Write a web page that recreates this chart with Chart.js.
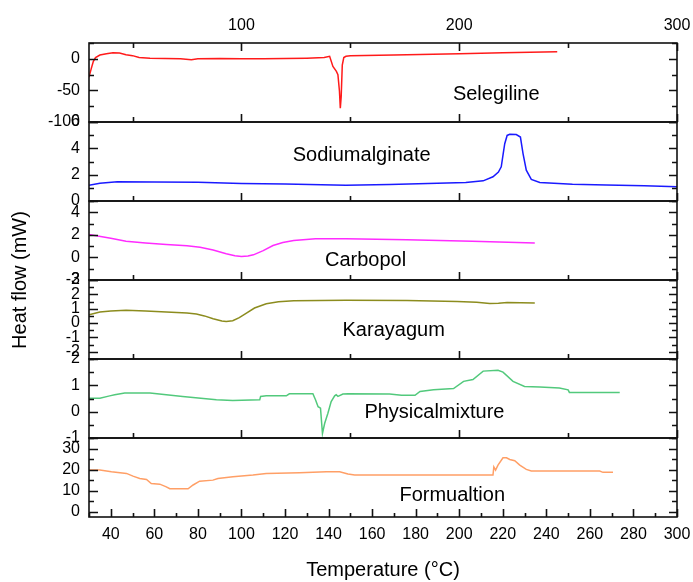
<!DOCTYPE html>
<html><head><meta charset="utf-8">
<script src="https://cdn.jsdelivr.net/npm/chart.js@4.4.1/dist/chart.umd.min.js"></script>
<style>html,body{margin:0;padding:0;background:#fff}canvas{display:block}</style>
</head><body>
<canvas id="c" width="693" height="582"></canvas>
<script>
// ---------- data ----------
const seriesNames = ['Selegiline', 'Sodiumalginate', 'Carbopol', 'Karayagum', 'Physicalmixture', 'Formualtion'];

const selegilineT  = [30, 31, 32, 33, 35, 38, 41, 44, 47, 50, 53, 58, 65, 72, 77, 80, 90, 100, 110, 120, 130, 138, 140.5, 142, 143.6, 144.3, 145, 145.4, 145.8, 146.3, 147, 148, 150, 170, 200, 220, 245];
const selegilineHF = [-29, -16, -4, 2, 6, 8, 9.5, 9, 6.5, 5, 2, 1, 0.5, 0, -1.5, 0, 0.5, 0, 0, 0.5, 1, 2, 4, -12, -20, -25, -51, -78, -60, -10, 2, 4, 5, 6, 8, 9.5, 11];

const alginateT  = [30, 35, 43, 60, 80, 100, 120, 148, 168, 190, 203, 211, 215.5, 218, 219.3, 220.2, 220.9, 222, 223.2, 226.2, 228.1, 229.3, 230.8, 233.1, 237, 252, 267.5, 285, 300];
const alginateHF = [1.2, 1.35, 1.46, 1.45, 1.42, 1.33, 1.3, 1.2, 1.26, 1.35, 1.41, 1.53, 1.84, 2.2, 2.6, 3.6, 4.35, 4.98, 5.06, 5.05, 4.86, 3.6, 2.34, 1.64, 1.41, 1.28, 1.21, 1.15, 1.08];

const carbopolT  = [30, 40, 47, 56, 65.5, 75, 81, 87, 93, 97, 100, 103, 105.5, 110, 114.5, 119, 124, 134, 148, 176, 206, 234.7];
const carbopolHF = [2.03, 1.7, 1.44, 1.28, 1.15, 1.03, 0.9, 0.65, 0.32, 0.15, 0.09, 0.12, 0.23, 0.6, 1.06, 1.32, 1.5, 1.65, 1.65, 1.56, 1.44, 1.27];

const karayaT  = [30, 35, 40, 47, 56, 65.5, 75, 79.3, 83, 87, 91, 93, 96, 99, 102.3, 106, 111.4, 117, 124, 148, 176, 199, 208, 214, 218, 222, 234.7];
const karayaHF = [0.58, 0.77, 0.85, 0.89, 0.85, 0.77, 0.7, 0.63, 0.5, 0.3, 0.15, 0.11, 0.16, 0.38, 0.7, 1.05, 1.34, 1.48, 1.55, 1.59, 1.57, 1.5, 1.45, 1.36, 1.38, 1.43, 1.4];

const mixtureT  = [30, 35, 39.5, 41.8, 46.4, 58, 65.5, 73, 88.5, 96, 108.4, 108.8, 111.4, 120.6, 122, 132.8, 134, 135.2, 136.3, 137.2, 138.2, 139.7, 141.2, 142.8, 143.5, 144.3, 146.6, 149, 168, 173.5, 179.7, 182, 188.2, 197.4, 202, 206.3, 211, 217.8, 220.1, 224.7, 230, 237, 246, 250, 250.6, 260, 273.7];
const mixtureHF = [0.51, 0.51, 0.6, 0.64, 0.71, 0.71, 0.64, 0.58, 0.45, 0.42, 0.45, 0.58, 0.6, 0.6, 0.68, 0.68, 0.45, 0.19, 0.13, -0.83, -0.45, -0.06, 0.38, 0.6, 0.64, 0.58, 0.67, 0.68, 0.67, 0.62, 0.62, 0.77, 0.83, 0.88, 1.15, 1.22, 1.54, 1.57, 1.5, 1.15, 0.96, 0.94, 0.9, 0.83, 0.73, 0.73, 0.73];

const formulationT  = [30, 35, 40.3, 47.2, 50.2, 53.3, 56.4, 58.6, 62.5, 65.5, 67.1, 75.5, 77.8, 80.8, 86.9, 89.2, 96.1, 105.3, 111.4, 126.7, 139, 145.1, 148.9, 152, 175.7, 215.5, 215.9, 216.7, 217.8, 220.1, 221.7, 223.2, 225.5, 227.8, 230.8, 233.1, 264.5, 266, 270.6];
const formulationHF = [19.8, 19.8, 19, 18.2, 16.9, 15.8, 15.3, 13.4, 13.1, 11.8, 10.9, 10.9, 12.7, 14.5, 15, 15.8, 16.6, 17.4, 18.2, 18.5, 19, 19, 17.9, 17.4, 17.4, 17.4, 21.3, 19.8, 22.1, 25.6, 25.6, 24.8, 24.2, 22.1, 20.1, 19.3, 19.3, 18.7, 18.7];

// tick labels
const xTickValues   = [40, 60, 80, 100, 120, 140, 160, 180, 200, 220, 240, 260, 280, 300];
const topTickValues = [100, 200, 300];
const p1Ticks = [-100, -50, 0];
const p2Ticks = [0, 2, 4, 6];
const p3Ticks = [-2, 0, 2, 4];
const p4Ticks = [-2, -1, 0, 1, 2, 3];
const p5Ticks = [-1, 0, 1, 2];
const p6Ticks = [0, 10, 20, 30];

// ---------- build ----------
const FONT = "'Liberation Sans', Arial, sans-serif";
Chart.defaults.font.family = FONT;
Chart.defaults.color = '#000';

function pts(xs, ys) { return xs.map((x, i) => ({x: x, y: ys[i]})); }

const seriesT  = [selegilineT, alginateT, carbopolT, karayaT, mixtureT, formulationT];
const seriesHF = [selegilineHF, alginateHF, carbopolHF, karayaHF, mixtureHF, formulationHF];
const colors = ['#ff1a1a', '#1a1aff', '#ff2bff', '#8c8c1e', '#52c97c', '#ff9f66'];
const panelIds = ['p1', 'p2', 'p3', 'p4', 'p5', 'p6'];

const datasets = seriesNames.map((n, i) => ({
  label: n,
  data: pts(seriesT[i], seriesHF[i]),
  xAxisID: 'x',
  yAxisID: panelIds[i],
  borderColor: colors[i],
  borderWidth: 1.5,
  pointRadius: 0,
  tension: 0,
  fill: false
}));

const panelRanges = [[-100, 25, 25], [0, 6, 1], [-2, 5, 1], [-2.5, 3, 0.5], [-1, 2, 0.5], [-2.5, 35, 5]];
const panelTicks = [p1Ticks, p2Ticks, p3Ticks, p4Ticks, p5Ticks, p6Ticks];

const scales = {
  x: {
    type: 'linear', position: 'bottom', min: 30, max: 300,
    grid: {display: false, drawTicks: false}, border: {display: false},
    ticks: {font: {size: 16}, padding: 8, autoSkip: false, maxRotation: 0},
    afterBuildTicks: s => { s.ticks = xTickValues.map(v => ({value: v})); },
    afterFit: s => { s.height = 65; s.paddingLeft = 0; s.paddingRight = 0; },
    title: {display: true, text: 'Temperature (°C)', font: {size: 20}, padding: {top: 0, bottom: 0}}
  },
  x2: {
    type: 'linear', position: 'top', min: 30, max: 300,
    grid: {display: false, drawTicks: false}, border: {display: false},
    ticks: {font: {size: 16}, padding: 8, autoSkip: false, maxRotation: 0},
    afterBuildTicks: s => { s.ticks = topTickValues.map(v => ({value: v})); },
    afterFit: s => { s.height = 43; s.paddingLeft = 0; s.paddingRight = 0; }
  },
  yt: {
    type: 'linear', position: 'left', weight: 10,
    grid: {display: false, drawTicks: false}, border: {display: false},
    ticks: {display: false},
    title: {display: true, text: 'Heat flow (mW)', font: {size: 20}, padding: {top: 8, bottom: 0}},
    afterFit: s => { s.width = 40; s.paddingTop = 0; s.paddingBottom = 0; }
  }
};
panelIds.forEach((id, i) => {
  scales[id] = {
    type: 'linear', position: 'left', stack: 'hf', stackWeight: 1, weight: 6 - i,
    min: panelRanges[i][0], max: panelRanges[i][1],
    grid: {display: false, drawTicks: false}, border: {display: false},
    ticks: {font: {size: 16}, padding: 9, autoSkip: false},
    afterBuildTicks: s => { s.ticks = panelTicks[i].map(v => ({value: v})); },
    afterFit: s => { s.width = 49; s.paddingTop = 0; s.paddingBottom = 0; }
  };
});

const labelAnchors = [
  {x: 217, y: -56}, {x: 155.2, y: 3.47}, {x: 157, y: -0.31},
  {x: 169.9, y: -0.54}, {x: 188.6, y: -0.05}, {x: 196.8, y: 7.9}
];

const framePlugin = {
  id: 'panelFrame',
  afterDatasetsDraw(chart) {
    const ctx = chart.ctx;
    const xs = chart.scales.x, xt = chart.scales.x2;
    const L = xs.left, R = xs.right;
    ctx.save();
    ctx.strokeStyle = '#111';
    ctx.lineWidth = 1.6;
    panelIds.forEach((id, i) => {
      const s = chart.scales[id];
      const T = s.top, B = s.bottom;
      ctx.beginPath();
      // y ticks (major + minor), inward on both sides
      const majors = s.ticks.map(t => t.value);
      const step = panelRanges[i][2];
      for (let k = Math.ceil(s.min / step - 1e-9); k * step <= s.max + 1e-9; k++) {
        const v = k * step;
        const isMajor = majors.some(m => Math.abs(m - v) < 1e-9);
        const py = Math.round(s.getPixelForValue(v)) + 0.5;
        const lenL = isMajor ? 9 : 5, lenR = isMajor ? 8 : 5;
        ctx.moveTo(L, py); ctx.lineTo(L + lenL, py);
        ctx.moveTo(R, py); ctx.lineTo(R - lenR, py);
      }
      // x ticks on bottom edge (inward/up)
      if (i === panelIds.length - 1) {
        for (let v = 30; v <= 300; v += 10) {
          const isMajor = xTickValues.includes(v);
          const px = Math.round(xs.getPixelForValue(v)) + 0.5;
          ctx.moveTo(px, B); ctx.lineTo(px, B - (isMajor ? 8 : 4));
        }
      } else {
        for (let v = 50; v <= 300; v += 50) {
          const isMajor = topTickValues.includes(v);
          const px = Math.round(xt.getPixelForValue(v)) + 0.5;
          ctx.moveTo(px, B); ctx.lineTo(px, B - (isMajor ? 8 : 5));
        }
      }
      if (i === 0) {
        for (let v = 50; v <= 300; v += 50) {
          const isMajor = topTickValues.includes(v);
          const px = Math.round(xt.getPixelForValue(v)) + 0.5;
          ctx.moveTo(px, T); ctx.lineTo(px, T + (isMajor ? 8 : 5));
        }
      }
      ctx.stroke();
      ctx.strokeRect(L, T, R - L, B - T);
      // panel label
      ctx.fillStyle = '#000';
      ctx.font = '20px ' + FONT;
      ctx.textAlign = 'center';
      ctx.textBaseline = 'middle';
      ctx.fillText(seriesNames[i], xs.getPixelForValue(labelAnchors[i].x), s.getPixelForValue(labelAnchors[i].y));
    });
    ctx.restore();
  }
};

new Chart(document.getElementById('c'), {
  type: 'line',
  data: {datasets: datasets},
  options: {
    responsive: false,
    animation: false,
    devicePixelRatio: 1,
    parsing: false,
    layout: {padding: {left: 0, right: 16, top: 0, bottom: 0}},
    plugins: {legend: {display: false}, tooltip: {enabled: false}, title: {display: false}},
    scales: scales
  },
  plugins: [framePlugin]
});
</script>
</body></html>
